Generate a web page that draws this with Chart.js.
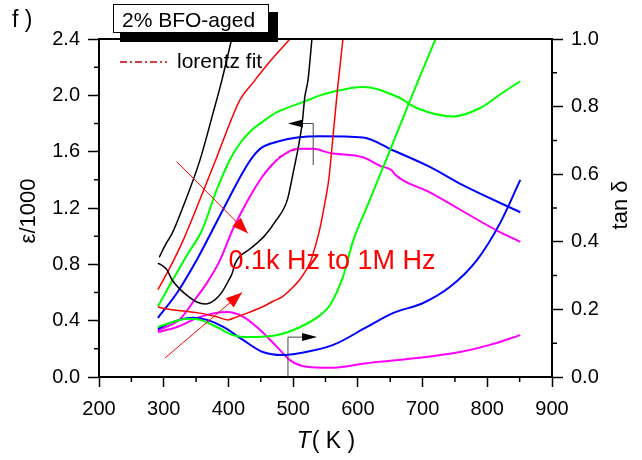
<!DOCTYPE html>
<html>
<head>
<meta charset="utf-8">
<script src="https://cdn.jsdelivr.net/npm/chart.js@4.4.1/dist/chart.umd.min.js"></script>
<style>
  html, body { margin: 0; padding: 0; background: #fff; }
  #wrap { width: 642px; height: 460px; }
</style>
</head>
<body>
<div id="wrap"><canvas id="chart" width="642" height="460"></canvas></div>
<script>
// axis ticks
const tempTicks = [200, 300, 400, 500, 600, 700, 800, 900];
const epsTicks = [0, 0.4, 0.8, 1.2, 1.6, 2.0, 2.4];
const tanTicks = [0, 0.2, 0.4, 0.6, 0.8, 1.0];

// permittivity (eps/1000), 0.1 kHz (black) up to 1 MHz (magenta)
const epsBlackT = [293, 304, 313, 330, 356, 376, 390, 405];
const epsBlack = [0.85, 0.95, 1.02, 1.21, 1.54, 1.87, 2.11, 2.40];
const epsRedT = [291, 310, 330, 356, 382, 402, 418, 438, 464, 495];
const epsRed = [0.62, 0.78, 0.97, 1.26, 1.56, 1.80, 1.97, 2.09, 2.24, 2.40];
const epsGreenT = [291, 314, 338, 359, 382, 403, 418, 433, 452, 475, 514, 542, 557, 608, 661, 691, 747, 789, 824, 851];
const epsGreen = [0.50, 0.69, 0.88, 1.04, 1.33, 1.55, 1.66, 1.74, 1.81, 1.88, 1.95, 2.00, 2.02, 2.06, 1.99, 1.91, 1.85, 1.91, 2.02, 2.10];
const epsBlueT = [291, 321, 351, 375, 402, 423, 437, 452, 475, 506, 542, 608, 654, 712, 763, 851];
const epsBlue = [0.42, 0.60, 0.83, 1.04, 1.28, 1.46, 1.56, 1.63, 1.67, 1.70, 1.71, 1.70, 1.61, 1.49, 1.36, 1.17];
const epsMagentaT = [291, 325, 345, 367, 387, 406, 433, 452, 466, 480, 506, 531, 557, 608, 634, 653, 657, 712, 815, 851];
const epsMagenta = [0.33, 0.41, 0.53, 0.67, 0.83, 1.04, 1.28, 1.42, 1.50, 1.56, 1.62, 1.62, 1.59, 1.56, 1.50, 1.465, 1.44, 1.31, 1.04, 0.96];

// lorentz fit over the 1 MHz permittivity peak
const fitT = [478, 490, 500, 510, 520, 532];
const fitEps = [1.56, 1.59, 1.61, 1.62, 1.62, 1.62];

// loss tangent
const tanBlackT = [291, 299, 305, 313, 325, 341, 351, 364, 379, 390, 399, 406, 410, 418, 429, 441, 457, 472, 491, 500, 508, 514, 518, 523, 529];
const tanBlack = [0.337, 0.328, 0.317, 0.287, 0.260, 0.234, 0.222, 0.216, 0.228, 0.251, 0.281, 0.308, 0.334, 0.358, 0.373, 0.391, 0.420, 0.459, 0.524, 0.604, 0.680, 0.751, 0.828, 0.879, 1.0];
const tanRedT = [291, 305, 330, 356, 382, 399, 413, 433, 452, 469, 483, 500, 511, 518, 526, 534, 542, 549, 555, 562, 569, 577];
const tanRed = [0.207, 0.201, 0.195, 0.189, 0.178, 0.169, 0.178, 0.192, 0.207, 0.224, 0.237, 0.266, 0.290, 0.310, 0.338, 0.385, 0.445, 0.515, 0.583, 0.72, 0.86, 1.0];
const tanGreenT = [291, 310, 336, 356, 382, 407, 433, 475, 511, 542, 557, 577, 593, 614, 631, 650, 681, 720];
const tanGreen = [0.148, 0.160, 0.172, 0.169, 0.148, 0.124, 0.118, 0.124, 0.148, 0.183, 0.213, 0.296, 0.405, 0.503, 0.583, 0.672, 0.820, 1.0];
const tanBlueT = [291, 310, 345, 367, 392, 423, 453, 484, 511, 562, 614, 654, 701, 742, 784, 820, 851];
const tanBlue = [0.142, 0.160, 0.175, 0.169, 0.148, 0.109, 0.074, 0.065, 0.071, 0.095, 0.148, 0.189, 0.219, 0.266, 0.346, 0.456, 0.583];
const tanMagentaT = [291, 321, 356, 398, 423, 449, 475, 495, 521, 557, 614, 691, 758, 804, 851];
const tanMagenta = [0.133, 0.148, 0.178, 0.192, 0.178, 0.139, 0.089, 0.050, 0.030, 0.027, 0.041, 0.056, 0.074, 0.095, 0.124];

const FONT = '"Liberation Sans", Arial, sans-serif';

function series(ts, vs) {
    return ts.map((t, i) => ({ x: t, y: vs[i] }));
}

function curve(ts, vs, color, axis, width) {
    return {
        data: series(ts, vs),
        yAxisID: axis,
        borderColor: color,
        borderWidth: width,
        pointRadius: 0,
        fill: false,
        cubicInterpolationMode: 'monotone'
    };
}

function arrowHead(ctx, fromX, fromY, toX, toY, len, half, color) {
    const a = Math.atan2(toY - fromY, toX - fromX);
    ctx.fillStyle = color;
    ctx.beginPath();
    ctx.moveTo(toX, toY);
    ctx.lineTo(toX - len * Math.cos(a) + half * Math.sin(a), toY - len * Math.sin(a) - half * Math.cos(a));
    ctx.lineTo(toX - len * Math.cos(a) - half * Math.sin(a), toY - len * Math.sin(a) + half * Math.cos(a));
    ctx.closePath();
    ctx.fill();
}

const decorations = {
    id: 'decorations',
    afterDraw(chart) {
        const { ctx, chartArea: area } = chart;
        const x = chart.scales.x, y = chart.scales.y, y2 = chart.scales.y2;
        ctx.save();

        // top frame line
        ctx.strokeStyle = '#000';
        ctx.lineWidth = 2;
        ctx.beginPath();
        ctx.moveTo(area.left - 1, area.top);
        ctx.lineTo(area.right + 1, area.top);
        ctx.stroke();

        // minor ticks halfway between the labelled ones
        ctx.lineWidth = 1.5;
        ctx.beginPath();
        for (let i = 0; i < tempTicks.length - 1; i++) {
            const px = x.getPixelForValue((tempTicks[i] + tempTicks[i + 1]) / 2);
            ctx.moveTo(px, area.bottom);
            ctx.lineTo(px, area.bottom + 5);
        }
        for (let i = 0; i < epsTicks.length - 1; i++) {
            const py = y.getPixelForValue((epsTicks[i] + epsTicks[i + 1]) / 2);
            ctx.moveTo(area.left, py);
            ctx.lineTo(area.left - 5, py);
        }
        for (let i = 0; i < tanTicks.length - 1; i++) {
            const py = y2.getPixelForValue((tanTicks[i] + tanTicks[i + 1]) / 2);
            ctx.moveTo(area.right, py);
            ctx.lineTo(area.right + 5, py);
        }
        ctx.stroke();

        // axis titles
        ctx.fillStyle = '#000';
        ctx.textBaseline = 'middle';
        ctx.textAlign = 'center';
        ctx.font = '22px ' + FONT;
        ctx.save();
        ctx.translate(29, 211);
        ctx.rotate(-Math.PI / 2);
        ctx.fillText('ε/1000', 0, 0);
        ctx.restore();
        ctx.save();
        ctx.translate(621, 205);
        ctx.rotate(-Math.PI / 2);
        ctx.fillText('tan δ', 0, 0);
        ctx.restore();

        ctx.textBaseline = 'alphabetic';
        ctx.textAlign = 'left';
        ctx.font = 'italic 23px ' + FONT;
        const wT = ctx.measureText('T').width;
        ctx.font = '23px ' + FONT;
        const wK = ctx.measureText('( K )').width;
        const startX = (area.left + area.right) / 2 - (wT + wK) / 2;
        ctx.font = 'italic 23px ' + FONT;
        ctx.fillText('T', startX, 448);
        ctx.font = '23px ' + FONT;
        ctx.fillText('( K )', startX + wT + 1, 448);

        // panel letter
        ctx.font = '23px ' + FONT;
        ctx.fillText('f )', 12, 27);

        // sample label box with drop shadow
        ctx.fillStyle = '#000';
        ctx.fillRect(120, 33, 158, 9);
        ctx.fillRect(269, 12, 9, 30);
        ctx.fillStyle = '#fff';
        ctx.fillRect(113, 4, 156, 29);
        ctx.strokeStyle = '#000';
        ctx.lineWidth = 1;
        ctx.strokeRect(113.5, 4.5, 155, 28);
        ctx.fillStyle = '#000';
        ctx.font = '21px ' + FONT;
        ctx.fillText('2% BFO-aged', 122, 27);

        // lorentz fit key
        ctx.strokeStyle = '#c00000';
        ctx.lineWidth = 1.5;
        ctx.setLineDash([7, 3, 2, 3]);
        ctx.beginPath();
        ctx.moveTo(120, 62);
        ctx.lineTo(167, 62);
        ctx.stroke();
        ctx.setLineDash([]);
        ctx.textBaseline = 'middle';
        ctx.fillText('lorentz fit', 177, 62);

        // frequency direction arrows
        ctx.strokeStyle = '#ff0000';
        ctx.lineWidth = 1;
        let x0 = x.getPixelForValue(320), y0 = y.getPixelForValue(1.53);
        let x1 = x.getPixelForValue(430), y1 = y.getPixelForValue(1.02);
        ctx.beginPath(); ctx.moveTo(x0, y0); ctx.lineTo(x1, y1); ctx.stroke();
        arrowHead(ctx, x0, y0, x1, y1, 16, 6, '#ff0000');
        x0 = x.getPixelForValue(302); y0 = y.getPixelForValue(0.135);
        x1 = x.getPixelForValue(421); y1 = y.getPixelForValue(0.60);
        ctx.beginPath(); ctx.moveTo(x0, y0); ctx.lineTo(x1, y1); ctx.stroke();
        arrowHead(ctx, x0, y0, x1, y1, 16, 6, '#ff0000');

        ctx.fillStyle = '#ff0000';
        ctx.font = '27px ' + FONT;
        ctx.textBaseline = 'alphabetic';
        ctx.fillText('0.1k Hz to 1M Hz', x.getPixelForValue(400), y.getPixelForValue(0.77));

        // axis pointers: permittivity to the left, loss to the right
        ctx.strokeStyle = '#444';
        ctx.lineWidth = 1;
        let ax = x.getPixelForValue(531), ay = y.getPixelForValue(1.80);
        let tipX = x.getPixelForValue(492);
        ctx.beginPath();
        ctx.moveTo(ax, y.getPixelForValue(1.505));
        ctx.lineTo(ax, ay);
        ctx.lineTo(tipX + 10, ay);
        ctx.stroke();
        arrowHead(ctx, ax, ay, tipX, ay, 15, 4, '#000');

        ax = x.getPixelForValue(492); ay = y2.getPixelForValue(0.118);
        tipX = x.getPixelForValue(537);
        ctx.beginPath();
        ctx.moveTo(ax, area.bottom);
        ctx.lineTo(ax, ay);
        ctx.lineTo(tipX - 10, ay);
        ctx.stroke();
        arrowHead(ctx, ax, ay, tipX, ay, 15, 4, '#000');

        ctx.restore();
    }
};

const tickFont = { family: FONT, size: 20 };
const axisLine = { display: true, color: '#000', width: 2 };

new Chart(document.getElementById('chart'), {
    type: 'line',
    data: {
        datasets: [
            curve(tanBlackT, tanBlack, '#000000', 'y2', 1.5),
            curve(tanRedT, tanRed, '#ff0000', 'y2', 1.5),
            curve(tanGreenT, tanGreen, '#00ff00', 'y2', 2),
            curve(tanBlueT, tanBlue, '#0000ff', 'y2', 2),
            curve(tanMagentaT, tanMagenta, '#ff00ff', 'y2', 2),
            curve(epsBlackT, epsBlack, '#000000', 'y', 1.5),
            curve(epsRedT, epsRed, '#ff0000', 'y', 1.5),
            curve(epsGreenT, epsGreen, '#00ff00', 'y', 2),
            curve(epsBlueT, epsBlue, '#0000ff', 'y', 2),
            curve(epsMagentaT, epsMagenta, '#ff00ff', 'y', 2),
            Object.assign(curve(fitT, fitEps, '#a00000', 'y', 1.5), { borderDash: [6, 3, 2, 3] })
        ]
    },
    options: {
        responsive: false,
        animation: false,
        layout: { padding: { top: 39, left: 0, right: 0, bottom: 0 } },
        plugins: { legend: { display: false }, tooltip: { enabled: false } },
        scales: {
            x: {
                type: 'linear',
                min: 200, max: 900,
                afterBuildTicks: s => { s.ticks = tempTicks.map(v => ({ value: v })); },
                afterFit: s => { s.height = 83; },
                ticks: { font: tickFont, color: '#000', padding: 10, maxRotation: 0, callback: v => String(v) },
                grid: { drawOnChartArea: false, drawTicks: true, tickLength: 10, tickWidth: 1.5, tickColor: '#000' },
                border: axisLine
            },
            y: {
                type: 'linear', position: 'left',
                min: 0, max: 2.4,
                afterBuildTicks: s => { s.ticks = epsTicks.map(v => ({ value: v })); },
                afterFit: s => { s.width = 99; },
                ticks: { font: tickFont, color: '#000', padding: 8, callback: v => v.toFixed(1) },
                grid: { drawOnChartArea: false, drawTicks: true, tickLength: 11, tickWidth: 1.5, tickColor: '#000' },
                border: axisLine
            },
            y2: {
                type: 'linear', position: 'right',
                min: 0, max: 1.0,
                afterBuildTicks: s => { s.ticks = tanTicks.map(v => ({ value: v })); },
                afterFit: s => { s.width = 90; },
                ticks: { font: tickFont, color: '#000', padding: 8, callback: v => v.toFixed(1) },
                grid: { drawOnChartArea: false, drawTicks: true, tickLength: 11, tickWidth: 1.5, tickColor: '#000' },
                border: axisLine
            }
        }
    },
    plugins: [decorations]
});
</script>
</body>
</html>
